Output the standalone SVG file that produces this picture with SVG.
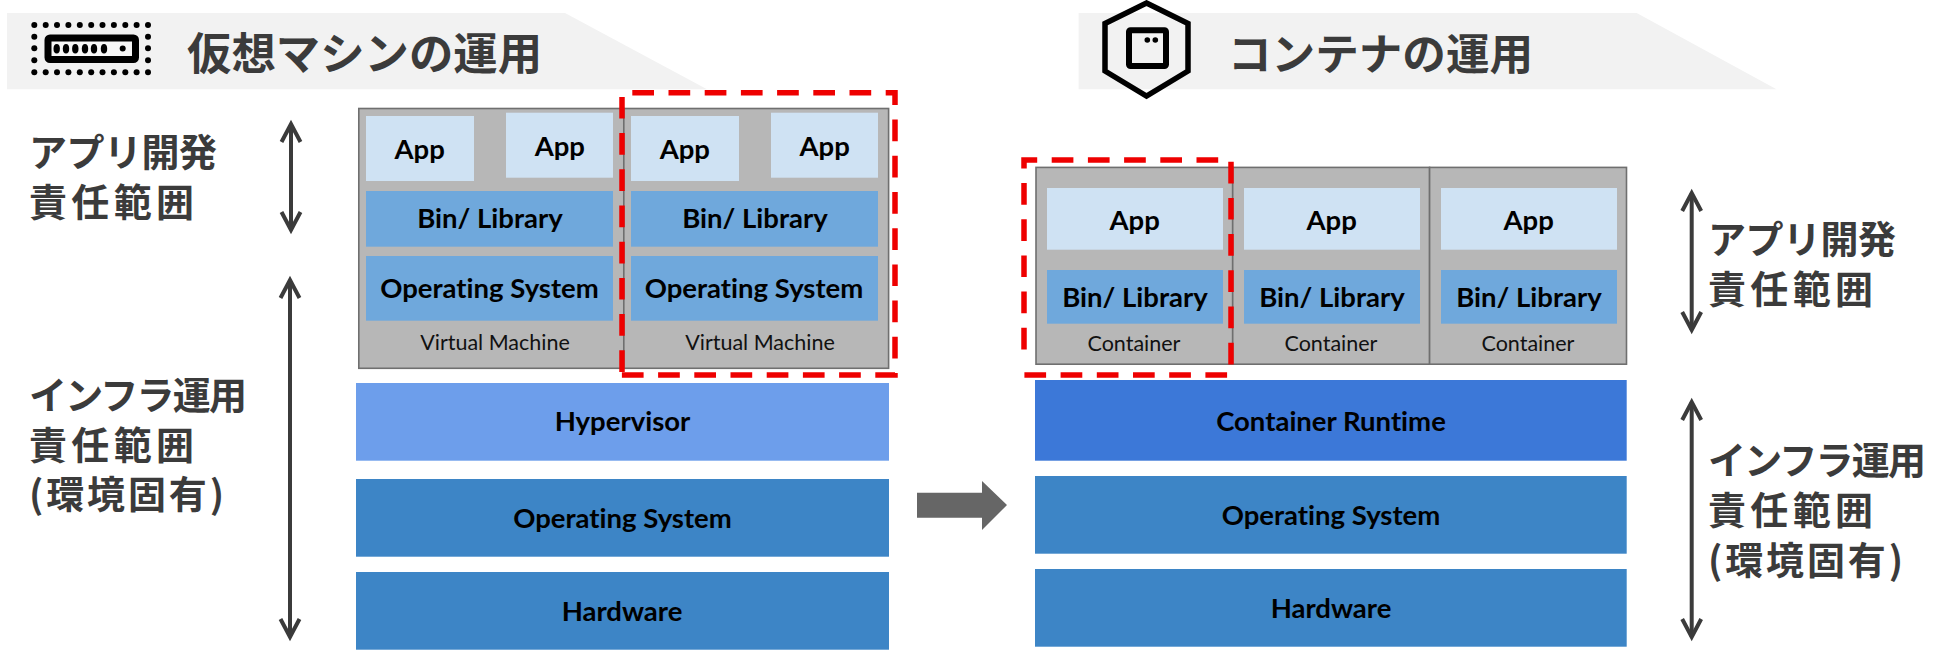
<svg xmlns="http://www.w3.org/2000/svg" width="1942" height="668" viewBox="0 0 1942 668">
<style>
text{font-family:"Noto Sans CJK JP","Noto Sans",sans-serif}
.t{font-weight:700;fill:#3b3b3b}
.l{font-size:38px;font-weight:700;fill:#3b3b3b}
.b{font-family:Lato,"Liberation Sans",sans-serif;font-weight:700;fill:#000;text-anchor:middle;font-variant-ligatures:none}
.s{font-size:27.5px}
.n{font-family:Lato,"Liberation Sans",sans-serif;font-weight:400;font-size:21.5px;fill:#111;text-anchor:middle;font-variant-ligatures:none}
.hdr{fill:#f2f2f2}
.box{fill:#b7b7b7;stroke:#6f6f6f;stroke-width:1.6}
.app{fill:#cfe2f3}
.bin{fill:#6fa8dc}
.hyp{fill:#6d9eeb}
.rt{fill:#3c78d8}
.os{fill:#3d85c6}
.red{fill:none;stroke:#ee0000;stroke-width:5.5;stroke-dasharray:21.7 14.5}
.dbl{fill:none;stroke:#3b3b3b;stroke-width:4}
.ico{fill:none;stroke:#000}
.dot{fill:#000}
</style>
<defs>
<marker id="h" viewBox="-12 -12 24 24" markerWidth="24" markerHeight="24" markerUnits="userSpaceOnUse" refX="0" refY="0" orient="auto-start-reverse" overflow="visible">
<path d="M-18 -9.5L0 0L-18 9.5" fill="none" stroke="#3b3b3b" stroke-width="4"/>
</marker>
</defs>

<g id="header-vm">
<path class="hdr" d="M7 13H565L707 89.3H7Z"/>
<g id="icon-vm">
<g class="dot">
<circle cx="34.3" cy="25" r="3"/><circle cx="45.7" cy="25" r="3"/><circle cx="57" cy="25" r="3"/><circle cx="68.4" cy="25" r="3"/><circle cx="79.8" cy="25" r="3"/><circle cx="91.2" cy="25" r="3"/><circle cx="102.5" cy="25" r="3"/><circle cx="113.9" cy="25" r="3"/><circle cx="125.3" cy="25" r="3"/><circle cx="136.6" cy="25" r="3"/><circle cx="148" cy="25" r="3"/>
<circle cx="34.3" cy="72.3" r="3"/><circle cx="45.7" cy="72.3" r="3"/><circle cx="57" cy="72.3" r="3"/><circle cx="68.4" cy="72.3" r="3"/><circle cx="79.8" cy="72.3" r="3"/><circle cx="91.2" cy="72.3" r="3"/><circle cx="102.5" cy="72.3" r="3"/><circle cx="113.9" cy="72.3" r="3"/><circle cx="125.3" cy="72.3" r="3"/><circle cx="136.6" cy="72.3" r="3"/><circle cx="148" cy="72.3" r="3"/>
<circle cx="34.3" cy="36.7" r="3"/><circle cx="34.3" cy="48.3" r="3"/><circle cx="34.3" cy="60.3" r="3"/>
<circle cx="148" cy="36.7" r="3"/><circle cx="148" cy="48.3" r="3"/><circle cx="148" cy="60.3" r="3"/>
</g>
<rect x="48" y="38" width="87.5" height="21.6" fill="#f7f7f7" stroke="#000" stroke-width="7" rx="2"/>
<g class="dot">
<ellipse cx="56.7" cy="48.8" rx="3.2" ry="4.8"/><ellipse cx="66" cy="48.8" rx="3.2" ry="4.8"/><ellipse cx="75.3" cy="48.8" rx="3.2" ry="4.8"/><ellipse cx="85" cy="48.8" rx="3.2" ry="4.8"/><ellipse cx="94" cy="48.8" rx="3.2" ry="4.8"/><ellipse cx="104" cy="48.8" rx="3.2" ry="4.8"/>
<circle cx="122.7" cy="48.5" r="3"/>
</g>
</g>
<text class="t" x="187" y="70" font-size="44.4">仮想マシンの運用</text>
</g>

<g id="header-container">
<path class="hdr" d="M1078.6 13H1636.7L1776.5 89.3H1078.6Z"/>
<g id="icon-container">
<path class="ico" stroke-width="5.5" d="M1146.5 3L1188 23.5V71L1146.5 96L1105 71V23.5Z"/>
<rect class="ico" x="1129" y="30.3" width="37" height="35.7" stroke-width="6" rx="1.5"/>
<circle class="dot" cx="1147.3" cy="40" r="2.8"/><circle class="dot" cx="1155.3" cy="40" r="2.8"/>
</g>
<text class="t" x="1228" y="70" font-size="43.6">コンテナの運用</text>
</g>

<g id="label-vm-app"><text class="l" x="29" y="166" textLength="188" lengthAdjust="spacing">アプリ開発</text><text class="l" x="29" y="216" textLength="165" lengthAdjust="spacing">責任範囲</text></g>
<g id="label-vm-infra"><text class="l" x="29" y="409" textLength="218" lengthAdjust="spacing">インフラ運用</text><text class="l" x="29" y="459" textLength="165" lengthAdjust="spacing">責任範囲</text><text class="l" x="29" y="508" textLength="195" lengthAdjust="spacing">(環境固有)</text></g>
<g id="label-ct-app"><text class="l" x="1708" y="253" textLength="188" lengthAdjust="spacing">アプリ開発</text><text class="l" x="1708" y="303" textLength="165" lengthAdjust="spacing">責任範囲</text></g>
<g id="label-ct-infra"><text class="l" x="1708" y="474" textLength="218" lengthAdjust="spacing">インフラ運用</text><text class="l" x="1708" y="524" textLength="165" lengthAdjust="spacing">責任範囲</text><text class="l" x="1708" y="574" textLength="195" lengthAdjust="spacing">(環境固有)</text></g>

<g id="node-vm1">
<rect class="box" x="358.8" y="108.5" width="265" height="259.8"/>
<rect class="app" x="366" y="116" width="108" height="65"/><text class="b s" x="419.6" y="159">App</text>
<rect class="app" x="506" y="112.7" width="107" height="65"/><text class="b s" x="559.8" y="156">App</text>
<rect class="bin" x="366" y="191" width="247" height="55.7"/><text class="b s" x="490" y="228">Bin/ Library</text>
<rect class="bin" x="366" y="256" width="247" height="64.7"/><text class="b s" x="489.5" y="298">Operating System</text>
<text class="n" x="495" y="350">Virtual Machine</text>
</g>
<g id="node-vm2">
<rect class="box" x="623.8" y="108.5" width="264.8" height="259.8"/>
<rect class="app" x="631" y="116" width="108" height="65"/><text class="b s" x="684.8" y="159">App</text>
<rect class="app" x="771" y="112.7" width="107" height="65"/><text class="b s" x="824.6" y="156">App</text>
<rect class="bin" x="631" y="191" width="247" height="55.7"/><text class="b s" x="755" y="228">Bin/ Library</text>
<rect class="bin" x="631" y="256" width="247" height="64.7"/><text class="b s" x="754" y="298">Operating System</text>
<text class="n" x="760" y="350">Virtual Machine</text>
</g>
<g id="node-hypervisor"><rect class="hyp" x="356" y="383" width="533" height="77.7"/><text class="b s" x="622.5" y="431">Hypervisor</text></g>
<g id="node-vm-os"><rect class="os" x="356" y="479" width="533" height="77.7"/><text class="b s" x="622.5" y="528">Operating System</text></g>
<g id="node-vm-hw"><rect class="os" x="356" y="572" width="533" height="77.7"/><text class="b s" x="622" y="621">Hardware</text></g>

<g id="node-ct1">
<rect class="box" x="1036" y="167.4" width="196.7" height="196.8"/>
<rect class="app" x="1047" y="188" width="176" height="61.7"/><text class="b s" x="1134.7" y="230">App</text>
<rect class="bin" x="1047" y="270" width="176" height="53.7"/><text class="b s" x="1135" y="307">Bin/ Library</text>
<text class="n" x="1134" y="350.5">Container</text>
</g>
<g id="node-ct2">
<rect class="box" x="1232.7" y="167.4" width="196.9" height="196.8"/>
<rect class="app" x="1244" y="188" width="176" height="61.7"/><text class="b s" x="1331.6" y="230">App</text>
<rect class="bin" x="1244" y="270" width="176" height="53.7"/><text class="b s" x="1332" y="307">Bin/ Library</text>
<text class="n" x="1331" y="350.5">Container</text>
</g>
<g id="node-ct3">
<rect class="box" x="1429.6" y="167.4" width="196.9" height="196.8"/>
<rect class="app" x="1441" y="188" width="176" height="61.7"/><text class="b s" x="1528.6" y="230">App</text>
<rect class="bin" x="1441" y="270" width="176" height="53.7"/><text class="b s" x="1529" y="307">Bin/ Library</text>
<text class="n" x="1528" y="350.5">Container</text>
</g>
<g id="node-runtime"><rect class="rt" x="1035" y="380" width="591.7" height="80.7"/><text class="b s" x="1331" y="430.5">Container Runtime</text></g>
<g id="node-ct-os"><rect class="os" x="1035" y="476" width="591.7" height="77.7"/><text class="b s" x="1331" y="525">Operating System</text></g>
<g id="node-ct-hw"><rect class="os" x="1035" y="569" width="591.7" height="77.7"/><text class="b s" x="1331" y="618">Hardware</text></g>

<g id="connectors">
<path class="dbl" d="M291 124V230" marker-start="url(#h)" marker-end="url(#h)"/>
<path class="dbl" d="M290 280V637" marker-start="url(#h)" marker-end="url(#h)"/>
<path class="dbl" d="M1691.7 193V330" marker-start="url(#h)" marker-end="url(#h)"/>
<path class="dbl" d="M1691.7 402V637" marker-start="url(#h)" marker-end="url(#h)"/>
<path d="M917 492.7H982V481L1007 505L982 530V517.7H917Z" fill="#666"/>
</g>

<g id="highlights">
<path class="red" d="M622 372V92.7H895V375H619.3"/>
<path class="red" d="M1024 364V160H1231V375H1024V364" stroke-dashoffset="21.7"/>
</g>
</svg>
